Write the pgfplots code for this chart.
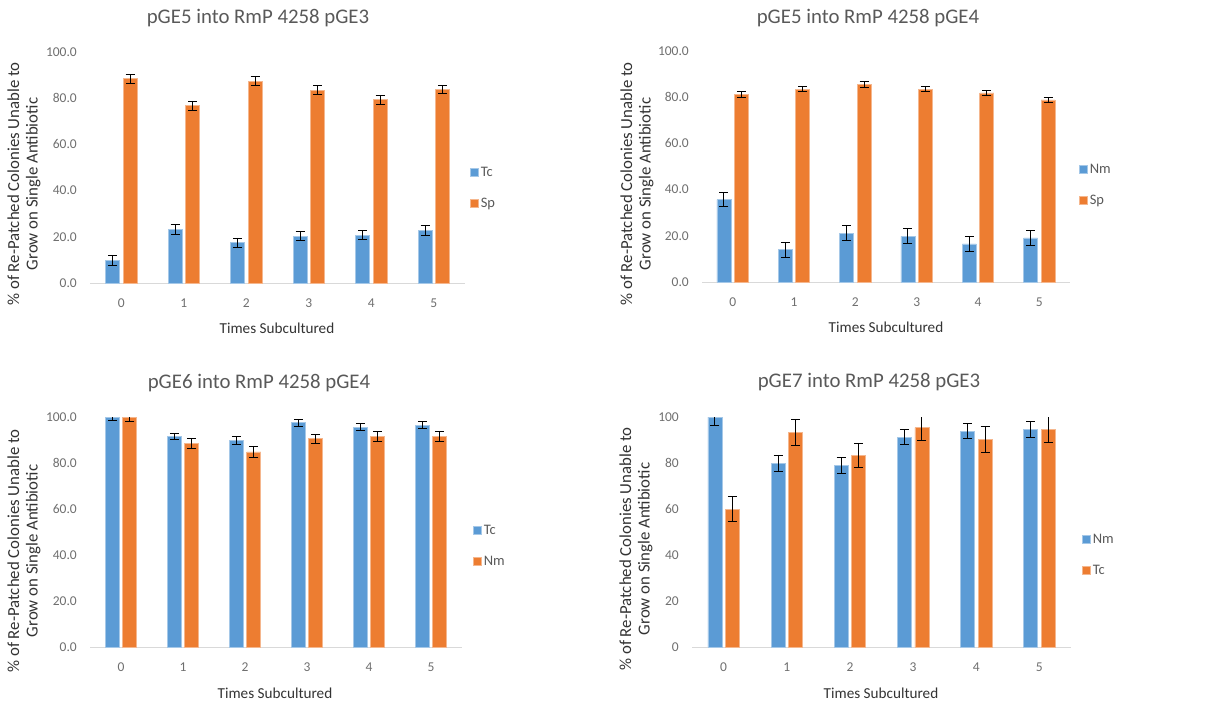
\documentclass[border=0pt]{standalone}
\usepackage{fontspec}
\setmainfont{Carlito}
\usepackage{pgfplots}
\pgfplotsset{compat=1.18}

\definecolor{serA}{HTML}{5B9BD5}
\definecolor{serB}{HTML}{ED7D31}
\definecolor{titlegray}{HTML}{595959}
\definecolor{tickgray}{HTML}{6F6F6F}
\definecolor{labelgray}{HTML}{333333}
\definecolor{basegray}{HTML}{D9D9D9}

\pgfplotsset{
  panel/.style={
    scale only axis,
    xmin=-0.5, xmax=5.5, ymin=0, ymax=100,
    xtick={0,1,2,3,4,5},
    ytick={0,20,40,60,80,100},
    ybar=3.5pt, bar width=14pt,
    separate axis lines,
    axis x line*=bottom, axis y line*=left,
    x axis line style={draw=basegray, line width=1pt, -},
    y axis line style={draw=none},
    major tick length=0pt, tick style={draw=none},
    /pgf/number format/assume math mode=true,
    ticklabel style={font=\fontsize{13.5}{15}\selectfont, text=tickgray},
    xticklabel style={anchor=base, yshift=-24.5pt},
    yticklabel style={anchor=east, inner sep=0pt, xshift=-13pt,
      /pgf/number format/.cd, fixed, fixed zerofill, precision=1},
    legend style={draw=none, fill=none, inner sep=0pt,
      font=\fontsize{14.5}{16}\selectfont, text=titlegray,
      row sep=16pt, anchor=west,
      /tikz/every even column/.append style={column sep=0pt}},
    legend cell align=left,
    legend image code/.code={\fill[##1] (0pt,-4pt) rectangle (8pt,4pt);},
    error bars/y dir=both, error bars/y explicit,
    error bars/error bar style={black, line width=0.9pt},
    error bars/error mark options={black, line width=0.9pt, mark size=4.5pt, rotate=90},
  },
  barA/.style={fill=serA, draw=serA!55!white, line width=0.6pt},
  barB/.style={fill=serB, draw=serB!55!white, line width=0.6pt},
}

\newcommand{\paneltitle}[2]{\node[text=titlegray, font=\fontsize{20.8}{24}\selectfont] at (#1) {#2};}
\newcommand{\ylab}[1]{\node[rotate=90, align=center, text=labelgray,
  font=\fontsize{16.8}{18.5}\selectfont] at (#1) {\% of Re-Patched Colonies Unable to\\Grow on Single Antibiotic};}
\newcommand{\xlab}[1]{\node[text=labelgray, font=\fontsize{15.2}{17}\selectfont] at (#1) {Times Subcultured};}

\begin{document}
\begin{tikzpicture}
\useasboundingbox (0pt,0pt) rectangle (1205pt,-704pt);

% ---------- pGE5 into RmP 4258 pGE3 ----------
\begin{axis}[panel, at={(90pt,-283pt)}, anchor=south west,
  width=375pt, height=231pt, legend style={at={(1,0.411)}, xshift=5pt}]
\addplot[barA] coordinates {
  (0,9.8) +- (0,2.1) (1,23.3) +- (0,2.1) (2,17.5) +- (0,2.0)
  (3,20.3) +- (0,2.0) (4,20.7) +- (0,2.0) (5,22.6) +- (0,2.2)};
\addplot[barB] coordinates {
  (0,88.4) +- (0,2.0) (1,76.8) +- (0,2.0) (2,87.4) +- (0,2.0)
  (3,83.5) +- (0,1.9) (4,79.4) +- (0,1.9) (5,83.8) +- (0,1.9)};
\legend{Tc,Sp}
\end{axis}
\paneltitle{258pt,-18pt}{pGE5 into RmP 4258 pGE3}
\ylab{24pt,-184pt}
\xlab{277pt,-328pt}

% ---------- pGE5 into RmP 4258 pGE4 ----------
\begin{axis}[panel, at={(702pt,-282pt)}, anchor=south west,
  width=368pt, height=231pt, legend style={at={(1,0.42)}, xshift=9pt}]
\addplot[barA] coordinates {
  (0,35.7) +- (0,3.2) (1,14.0) +- (0,3.2) (2,21.2) +- (0,3.1)
  (3,19.8) +- (0,3.2) (4,16.5) +- (0,3.2) (5,19.1) +- (0,3.2)};
\addplot[barB] coordinates {
  (0,81.2) +- (0,1.2) (1,83.4) +- (0,1.1) (2,85.5) +- (0,1.2)
  (3,83.4) +- (0,1.1) (4,81.9) +- (0,1.0) (5,78.8) +- (0,0.9)};
\legend{Nm,Sp}
\end{axis}
\paneltitle{868pt,-18pt}{pGE5 into RmP 4258 pGE4}
\ylab{637pt,-184pt}
\xlab{886pt,-327pt}

% ---------- pGE6 into RmP 4258 pGE4 ----------
\begin{axis}[panel, at={(90pt,-647pt)}, anchor=south west,
  width=372pt, height=230pt, legend style={at={(1,0.44)}, xshift=11pt}]
\addplot[barA] coordinates {
  (0,100) +- (0,1.6) (1,91.6) +- (0,1.4) (2,89.8) +- (0,1.6)
  (3,97.5) +- (0,1.5) (4,95.6) +- (0,1.5) (5,96.4) +- (0,1.5)};
\addplot[barB] coordinates {
  (0,100) +- (0,1.9) (1,88.4) +- (0,2.1) (2,84.8) +- (0,2.2)
  (3,90.6) +- (0,2.0) (4,91.6) +- (0,2.1) (5,91.6) +- (0,2.1)};
\legend{Tc,Nm}
\end{axis}
\paneltitle{259pt,-383pt}{pGE6 into RmP 4258 pGE4}
\ylab{24pt,-551pt}
\xlab{275pt,-693pt}

% ---------- pGE7 into RmP 4258 pGE3 ----------
\begin{axis}[panel, at={(692pt,-647pt)}, anchor=south west,
  width=379pt, height=230pt, legend style={at={(1,0.40)}, xshift=11pt},
  yticklabel style={/pgf/number format/.cd, fixed, precision=0, fixed zerofill=false}]
\addplot[barA] coordinates {
  (0,100) +- (0,3.6) (1,80.0) +- (0,3.5) (2,78.8) +- (0,3.4)
  (3,91.3) +- (0,3.4) (4,93.9) +- (0,3.4) (5,94.6) +- (0,3.4)};
\addplot[barB] coordinates {
  (0,59.9) +- (0,5.5) (1,93.2) +- (0,5.7) (2,83.3) +- (0,5.4)
  (3,95.4) +- (0,5.6) (4,90.3) +- (0,5.6) (5,94.6) +- (0,5.6)};
\legend{Nm,Tc}
\end{axis}
\paneltitle{869pt,-382pt}{pGE7 into RmP 4258 pGE3}
\ylab{636pt,-549pt}
\xlab{881pt,-693pt}

\end{tikzpicture}
\end{document}
